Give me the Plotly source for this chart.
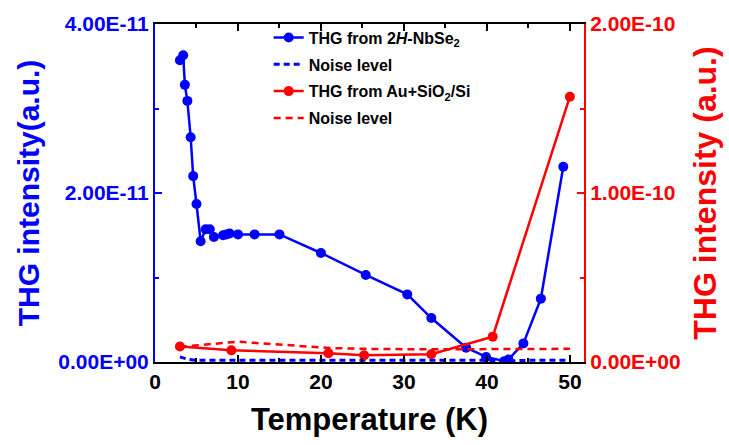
import plotly.graph_objects as go

# THG from 2H-NbSe2 (left axis)
temp_nbse2 = [3.0, 3.4, 3.6, 3.9, 4.3, 4.6, 5.0, 5.5, 6.1, 6.6, 7.1, 8.2, 8.6, 9.0,
              10.0, 12.0, 15.0, 20.0, 25.4, 30.4, 33.3, 37.5, 39.9, 42.1, 42.6,
              44.4, 46.5, 49.2]
thg_nbse2 = [3.57e-11, 3.63e-11, 3.28e-11, 3.09e-11, 2.66e-11, 2.20e-11, 1.87e-11,
             1.43e-11, 1.57e-11, 1.57e-11, 1.48e-11, 1.50e-11, 1.51e-11, 1.52e-11,
             1.51e-11, 1.51e-11, 1.51e-11, 1.29e-11, 1.03e-11, 0.80e-11, 0.52e-11,
             0.17e-11, 0.06e-11, 0.01e-11, 0.03e-11, 0.22e-11, 0.75e-11, 2.31e-11]

# Noise level for 2H-NbSe2
temp_noise_nbse2 = [3.0, 4.0, 5.0, 10.0, 20.0, 30.0, 40.0, 42.0, 45.0, 50.0]
noise_nbse2 = [0.06e-11, 0.03e-11, 0.02e-11, 0.02e-11, 0.02e-11, 0.02e-11,
               0.02e-11, 0.01e-11, 0.02e-11, 0.02e-11]

# THG from Au+SiO2/Si (right axis)
temp_au = [3.0, 9.2, 20.9, 25.2, 33.3, 40.7, 50.0]
thg_au = [0.092e-10, 0.069e-10, 0.052e-10, 0.040e-10, 0.046e-10, 0.15e-10, 1.57e-10]

# Noise level for Au+SiO2/Si
temp_noise_au = [3.0, 10.0, 21.0, 25.0, 33.0, 40.0, 50.0]
noise_au = [0.09e-10, 0.12e-10, 0.083e-10, 0.078e-10, 0.075e-10, 0.075e-10, 0.078e-10]

# Tick labels
x_ticks = [0, 10, 20, 30, 40, 50]
y1_ticks = [0, 2e-11, 4e-11]
y1_labels = ["0.00E+00", "2.00E-11", "4.00E-11"]
y2_ticks = [0, 1e-10, 2e-10]
y2_labels = ["0.00E+00", "1.00E-10", "2.00E-10"]

BLUE = "#0000FF"
RED = "#FF0000"
FONT = "Arial, Liberation Sans, sans-serif"

fig = go.Figure()

fig.add_trace(go.Scatter(
    x=temp_nbse2, y=thg_nbse2, mode="lines+markers",
    name="THG from 2<i>H</i>-NbSe<sub>2</sub>", legendgroup="a",
    line=dict(color=BLUE, width=2.5), marker=dict(color=BLUE, size=10),
    yaxis="y"))
fig.add_trace(go.Scatter(
    x=temp_noise_nbse2, y=noise_nbse2, mode="lines",
    name="Noise level", legendgroup="b",
    line=dict(color=BLUE, width=3, dash="6px,4px"), yaxis="y"))
fig.add_trace(go.Scatter(
    x=temp_au, y=thg_au, mode="lines+markers",
    name="THG from Au+SiO<sub>2</sub>/Si", legendgroup="c",
    line=dict(color=RED, width=2.5), marker=dict(color=RED, size=10),
    yaxis="y2"))
fig.add_trace(go.Scatter(
    x=temp_noise_au, y=noise_au, mode="lines",
    name="Noise level", legendgroup="d",
    line=dict(color=RED, width=2.5, dash="7px,5px"), yaxis="y2"))

fig.update_layout(
    width=729, height=445,
    margin=dict(l=155, r=144, t=16, b=83),
    plot_bgcolor="white", paper_bgcolor="white",
    font=dict(family=FONT, weight="bold"),
    showlegend=True,
    legend=dict(
        x=0.265, y=1.01, xanchor="left", yanchor="top",
        bgcolor="rgba(0,0,0,0)", tracegroupgap=3,
        font=dict(size=16, color="black", family=FONT, weight="bold"),
    ),
    xaxis=dict(
        range=[0, 51.7], tickvals=x_ticks, ticktext=[str(v) for v in x_ticks],
        ticks="inside", ticklen=7, tickwidth=2, tickcolor="black",
        minor=dict(dtick=5, tick0=0, ticks="inside", ticklen=4, tickwidth=2, tickcolor="black"),
        showline=True, linecolor="black", linewidth=2, mirror="ticks",
        showgrid=False, zeroline=False,
        tickfont=dict(size=21, color="black", family=FONT, weight="bold"),
        title=dict(text="Temperature (K)", standoff=16,
                   font=dict(size=31, color="black", family=FONT, weight="bold")),
    ),
    yaxis=dict(
        range=[0, 4e-11], tickvals=y1_ticks, ticktext=y1_labels,
        ticks="inside", ticklen=7, tickwidth=2, tickcolor=BLUE,
        minor=dict(dtick=1e-11, tick0=0, ticks="inside", ticklen=4, tickwidth=2, tickcolor=BLUE),
        showline=True, linecolor=BLUE, linewidth=2,
        showgrid=False, zeroline=False,
        tickfont=dict(size=21, color=BLUE, family=FONT, weight="bold"),
        title=dict(text="THG intensity(a.u.)", standoff=10,
                   font=dict(size=30, color=BLUE, family=FONT, weight="bold")),
    ),
    yaxis2=dict(
        range=[0, 2e-10], tickvals=y2_ticks, ticktext=y2_labels,
        overlaying="y", side="right",
        ticks="inside", ticklen=7, tickwidth=2, tickcolor=RED,
        minor=dict(dtick=0.5e-10, tick0=0, ticks="inside", ticklen=4, tickwidth=2, tickcolor=RED),
        showline=True, linecolor=RED, linewidth=2,
        showgrid=False, zeroline=False,
        tickfont=dict(size=21, color=RED, family=FONT, weight="bold"),
        title=dict(text="THG intensity (a.u.)", standoff=14,
                   font=dict(size=32, color=RED, family=FONT, weight="bold")),
    ),
)

fig.write_html("out.html")
